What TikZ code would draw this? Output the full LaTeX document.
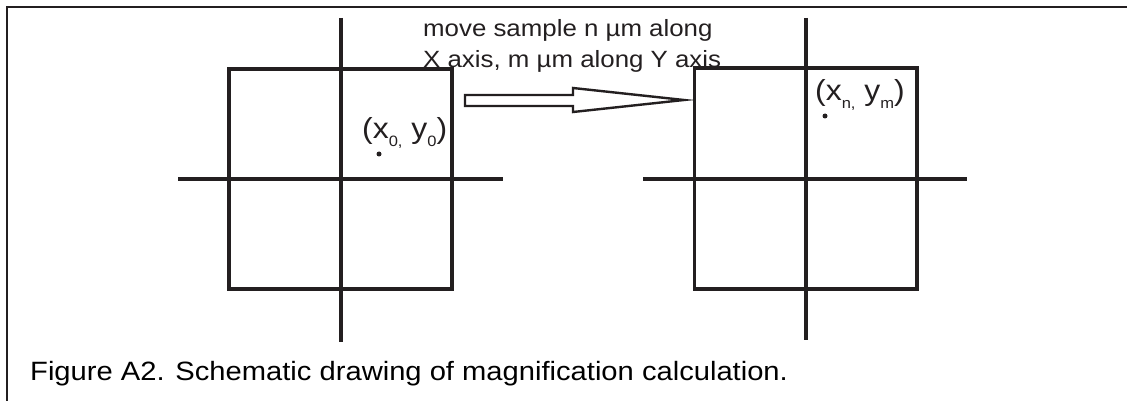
\documentclass[tikz,border=0pt]{standalone}
\usepackage{fontspec}
\setmainfont{Liberation Sans}
\newcommand\lowidx[1]{\raisebox{-0.25em}{\fontsize{15}{15}\selectfont #1}}
\newcommand\hstretch[1]{\scalebox{1.1}[1]{#1}}
\definecolor{ink}{RGB}{35,31,32}
\begin{document}
\begin{tikzpicture}[x=1pt,y=-1pt,
  ax/.style={line width=3.2pt, draw=ink},
  sq/.style={draw=ink, line width=3.2pt, inner sep=0pt, outer sep=0pt},
  lbl/.style={inner sep=0pt, anchor=base west, text=ink},
  dotmark/.style={circle, fill=ink, inner sep=0pt, minimum size=5pt}]
\useasboundingbox (0,0) rectangle (1127,401);
% frame
\coordinate (fb) at (7,401);
\coordinate (fc) at (7,7);
\coordinate (fr) at (1127,7);
\draw[line width=2.2pt, ink] (fb) -- (fc) -- (fr);
% left square and axes
\node[sq, minimum width=223pt, minimum height=220pt] (sqL) at (340.5,179) {};
\coordinate (vLt) at (341,18); \coordinate (vLb) at (341,342);
\coordinate (hLl) at (178,179); \coordinate (hLr) at (503,179);
\draw[ax] (vLt) -- (vLb);
\draw[ax] (hLl) -- (hLr);
% right square and axes
\node[sq, minimum width=222.5pt, minimum height=221pt] (sqR) at (805.75,178.5) {};
\coordinate (vRt) at (806,18); \coordinate (vRb) at (806,340);
\coordinate (hRl) at (643,179); \coordinate (hRr) at (967,179);
\draw[ax] (vRt) -- (vRb);
\draw[ax] (hRl) -- (hRr);
% dots and labels
\node[dotmark] (dL) at (379,154) {};
\node[dotmark] (dR) at (825,116) {};
\node[lbl] (labL) at (362,139) {\fontsize{29}{29}\selectfont\hstretch{(x\lowidx{0,} y\lowidx{0})}};
\node[lbl] (labR) at (815,101) {\fontsize{29}{29}\selectfont\hstretch{(x\lowidx{n,} y\lowidx{m})}};
% open arrow
\coordinate (a1) at (465,95); \coordinate (a2) at (573,95); \coordinate (a3) at (573,88);
\coordinate (a4) at (684,100); \coordinate (a5) at (573,112); \coordinate (a6) at (573,106);
\coordinate (a7) at (465,106);
\draw[line width=2.4pt, ink, fill=white, line join=miter] (a1) -- (a2) -- (a3) -- (a4) -- (a5) -- (a6) -- (a7) -- cycle;
% top text
\node[lbl] (t1) at (423,37) {\fontsize{23.5}{23.5}\selectfont\hstretch{move sample n µm along}};
\node[lbl] (t2) at (423,68) {\fontsize{23.5}{23.5}\selectfont\hstretch{X axis, m µm along Y axis}};
% caption
\node[lbl, text=black] (cap) at (30,380) {\fontsize{26.5}{26.5}\selectfont\hstretch{Figure A2. Schematic drawing of magnification calculation.}};
\end{tikzpicture}
\end{document}
